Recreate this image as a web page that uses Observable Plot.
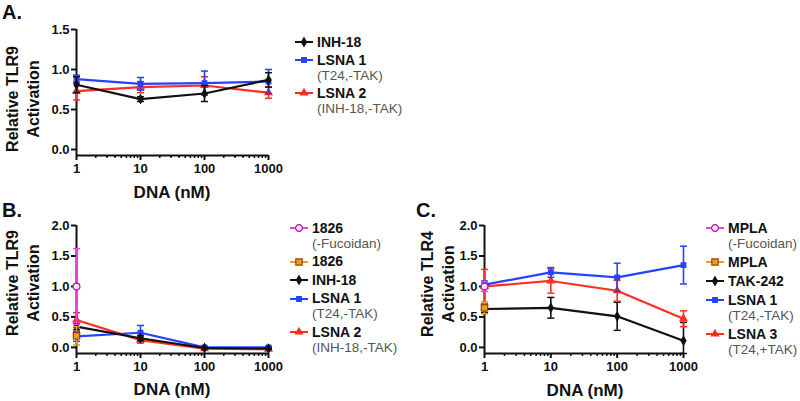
<!DOCTYPE html>
<html><head><meta charset="utf-8">
<script src="https://cdn.jsdelivr.net/npm/d3@7"></script>
<script src="https://cdn.jsdelivr.net/npm/@observablehq/plot@0.6"></script>
<style>
body{margin:0;width:800px;height:401px;background:#fff;position:relative;overflow:hidden;font-family:"Liberation Sans",Arial,sans-serif;color:#111}
.abs{position:absolute}
.ptitle{position:absolute;font-weight:bold;font-size:20px;line-height:20px}
.ylab{position:absolute;width:160px;height:42px;transform:rotate(-90deg);transform-origin:center center;font-weight:bold;font-size:16px;line-height:21px;text-align:center;white-space:nowrap}
.xlab{position:absolute;font-weight:bold;font-size:17px;transform:translate(-50%,-50%);white-space:nowrap}
.leg{position:absolute}
.leg .row{display:flex;align-items:center;height:15px;line-height:15px}
.leg .name{font-weight:bold;font-size:14px;color:#111}
.leg .sub{font-size:13.5px;color:#555;height:15px;line-height:15px}
.leg svg{display:block}
</style>
</head><body>
<script>
// ---------- data ----------
const doses = [1, 10, 100, 1000];
const minorTicks = [2,3,4,5,6,7,8,9,20,30,40,50,60,70,80,90,200,300,400,500,600,700,800,900];
const yTicksA = [0, 0.5, 1.0, 1.5];
const yTicksBC = [0, 0.5, 1.0, 1.5, 2.0];

// Panel A (Relative TLR9 activation)
const aINH18 = [0.81, 0.63, 0.70, 0.87];
const aINH18Err = [0.10, 0.03, 0.10, 0.09];
const aLSNA1 = [0.88, 0.82, 0.83, 0.85];
const aLSNA1Err = [0.05, 0.08, 0.15, 0.15];
const aLSNA2 = [0.73, 0.78, 0.80, 0.71];
const aLSNA2Err = [0.11, 0.07, 0.11, 0.07];

// Panel B (Relative TLR9 activation)
const b1826Fuc = [1.00];
const b1826FucErr = [0.62];
const b1826 = [0.19];
const b1826Err = [0.15];
const bINH18 = [0.34, 0.15, -0.01, -0.02];
const bINH18Err = [0.05, 0.04, 0.01, 0.01];
const bLSNA1 = [0.18, 0.24, 0.00, 0.00];
const bLSNA1Err = [0.08, 0.12, 0.02, 0.02];
const bLSNA2 = [0.45, 0.12, -0.02, -0.03];
const bLSNA2Err = [0.12, 0.05, 0.01, 0.01];

// Panel C (Relative TLR4 activation)
const cMPLAFuc = [1.00];
const cMPLAFucErr = [0.08];
const cMPLA = [0.65];
const cMPLAErr = [0.10];
const cTAK242 = [0.63, 0.65, 0.51, 0.11];
const cTAK242Err = [0.06, 0.17, 0.23, 0.30];
const cTAK242ErrLow = [0.06, 0.17, 0.23, 0.21]; // lower bar stops at the axis
const cLSNA1 = [1.03, 1.23, 1.15, 1.35];
const cLSNA1Err = [0.06, 0.08, 0.23, 0.31];
const cLSNA3 = [1.00, 1.09, 0.93, 0.47];
const cLSNA3Err = [0.28, 0.20, 0.17, 0.13];

// ---------- styles ----------
const BLACK = "#111", BLUE = "#2442ff", RED = "#ff2d1f", MAG = "#f23ee0", ORG = "#f39a1c";
const stBlack = {color: BLACK, symbol: "diamond", r: 2.6, fill: BLACK, stroke: BLACK};
const stBlue = {color: BLUE, symbol: "square", r: 2.6, fill: BLUE, stroke: BLUE};
const stRed = {color: RED, symbol: "triangle", r: 2.6, fill: RED, stroke: RED};
const stMag = {color: MAG, symbol: "circle", r: 3.4, fill: "#fbe3f8", stroke: "#a8169a"};
const stOrg = {color: ORG, symbol: "square", r: 3.6, fill: ORG, stroke: "#8a4a00"};

const rows = (ys, es, esLow) => ys.map((y, i) => ({x: doses[i], y, lo: y - (esLow ? esLow[i] : es[i]), hi: y + es[i]}));
const capSym = {draw(ctx, size) { const w = Math.sqrt(size / Math.PI); ctx.moveTo(-w, 0); ctx.lineTo(w, 0); }};
const symMap = {circle: d3.symbolCircle, square: d3.symbolSquare, diamond: d3.symbolDiamond, triangle: d3.symbolTriangle};

function seriesMarks(data, st) {
  const m = [
    Plot.ruleX(data, {x: "x", y1: "lo", y2: "hi", stroke: st.color, strokeWidth: 1.6}),
    Plot.dot(data, {x: "x", y: "lo", symbol: capSym, r: 3.5, stroke: st.color, fill: "none", strokeWidth: 1.5}),
    Plot.dot(data, {x: "x", y: "hi", symbol: capSym, r: 3.5, stroke: st.color, fill: "none", strokeWidth: 1.5})
  ];
  if (data.length > 1) m.push(Plot.line(data, {x: "x", y: "y", stroke: st.color, strokeWidth: 2.2}));
  m.push(Plot.dot(data, {x: "x", y: "y", symbol: st.symbol, r: st.r, fill: st.fill, stroke: st.stroke, strokeWidth: 1.2}));
  return m;
}

function panel({series, yDomain, yTicks, width, height, mt, mb, ml, mr, left, top}) {
  const marks = [
    Plot.axisY({ticks: yTicks, tickSize: 5, tickPadding: 2, tickFormat: d3.format(".1f"), strokeWidth: 2, label: null}),
    Plot.axisX({ticks: doses, tickSize: 5, tickPadding: 3, tickFormat: d => String(d), strokeWidth: 2, label: null}),
    Plot.axisX({ticks: minorTicks, tickSize: 3, tickFormat: () => "", strokeWidth: 1.5, label: null}),
    Plot.ruleX([1], {strokeWidth: 2, stroke: BLACK}),
    Plot.ruleY([yDomain[0]], {strokeWidth: 2, stroke: BLACK})
  ];
  for (const [d, st] of series) marks.push(...seriesMarks(d, st));
  const svg = Plot.plot({
    width, height, marginTop: mt, marginBottom: mb, marginLeft: ml, marginRight: mr,
    x: {type: "log", domain: [1, 1000], label: null},
    y: {domain: yDomain, label: null},
    style: {fontSize: "13px", fontWeight: "bold", fontFamily: '"Liberation Sans", Arial, sans-serif', color: BLACK, background: "transparent", overflow: "visible"},
    marks
  });
  const div = document.createElement("div");
  div.className = "abs";
  div.style.left = left + "px"; div.style.top = top + "px";
  div.appendChild(svg);
  document.body.appendChild(div);
}

function legend(items, left, top, gap) {
  const box = document.createElement("div");
  box.className = "leg";
  box.style.left = left + "px"; box.style.top = top + "px";
  items.forEach(([name, sub, st], i) => {
    const e = document.createElement("div");
    e.style.marginTop = (i ? gap : 0) + "px";
    const row = document.createElement("div");
    row.className = "row";
    const sw = d3.create("svg").attr("width", 18).attr("height", 12).style("margin-right", "4px");
    sw.append("line").attr("x1", 0).attr("x2", 18).attr("y1", 6).attr("y2", 6).attr("stroke", st.color).attr("stroke-width", 2);
    sw.append("path").attr("transform", "translate(9,6)")
      .attr("d", d3.symbol(symMap[st.symbol], Math.PI * st.r * st.r)())
      .attr("fill", st.fill).attr("stroke", st.stroke).attr("stroke-width", 1.2);
    row.appendChild(sw.node());
    const t = document.createElement("span"); t.className = "name"; t.textContent = name;
    row.appendChild(t);
    e.appendChild(row);
    if (sub) { const s = document.createElement("div"); s.className = "sub"; s.style.paddingLeft = "22px"; s.textContent = sub; e.appendChild(s); }
    box.appendChild(e);
  });
  document.body.appendChild(box);
}

function text(cls, str, x, y, html) {
  const d = document.createElement("div"); d.className = cls;
  if (html) d.innerHTML = str; else d.textContent = str;
  d.style.left = x + "px"; d.style.top = y + "px";
  document.body.appendChild(d);
}

// ---------- panels ----------
panel({series: [[rows(aLSNA2, aLSNA2Err), stRed], [rows(aLSNA1, aLSNA1Err), stBlue], [rows(aINH18, aINH18Err), stBlack]],
  yDomain: [-0.075, 1.5], yTicks: yTicksA, width: 290, height: 200, mt: 29, mb: 45, ml: 76, mr: 22, left: 0, top: 0});
panel({series: [[rows(bLSNA2, bLSNA2Err), stRed], [rows(bLSNA1, bLSNA1Err), stBlue], [rows(bINH18, bINH18Err), stBlack],
    [rows(b1826, b1826Err), stOrg], [rows(b1826Fuc, b1826FucErr), stMag]],
  yDomain: [-0.1, 2.0], yTicks: yTicksBC, width: 290, height: 200, mt: 25, mb: 47, ml: 76, mr: 22, left: 0, top: 200});
panel({series: [[rows(cTAK242, cTAK242Err, cTAK242ErrLow), stBlack], [rows(cLSNA3, cLSNA3Err), stRed], [rows(cLSNA1, cLSNA1Err), stBlue],
    [rows(cMPLA, cMPLAErr), stOrg], [rows(cMPLAFuc, cMPLAFucErr), stMag]],
  yDomain: [-0.1, 2.0], yTicks: yTicksBC, width: 300, height: 200, mt: 25, mb: 47, ml: 84, mr: 17, left: 400, top: 200});

// titles and axis labels
text("ptitle", "A.", 2, 2);
text("ptitle", "B.", 2, 200);
text("ptitle", "C.", 416, 200);
text("ylab", "Relative TLR9<br>Activation", 22.5 - 80, 99 - 21, true);
text("ylab", "Relative TLR9<br>Activation", 22.5 - 80, 283 - 21, true);
text("ylab", "Relative TLR4<br>Activation", 437.5 - 80, 284 - 21, true);
text("xlab", "DNA (nM)", 172, 193);
text("xlab", "DNA (nM)", 172, 390);
text("xlab", "DNA (nM)", 585, 391);

// legends
legend([["INH-18", "", stBlack], ["LSNA 1", "(T24,-TAK)", stBlue], ["LSNA 2", "(INH-18,-TAK)", stRed]], 295, 34.5, 3);
legend([["1826", "(-Fucoidan)", stMag], ["1826", "", stOrg], ["INH-18", "", stBlack], ["LSNA 1", "(T24,-TAK)", stBlue], ["LSNA 2", "(INH-18,-TAK)", stRed]], 290, 220.5, 3.5);
legend([["MPLA", "(-Fucoidan)", stMag], ["MPLA", "", stOrg], ["TAK-242", "", stBlack], ["LSNA 1", "(T24,-TAK)", stBlue], ["LSNA 3", "(T24,+TAK)", stRed]], 706, 220.5, 4);
</script>
</body></html>
